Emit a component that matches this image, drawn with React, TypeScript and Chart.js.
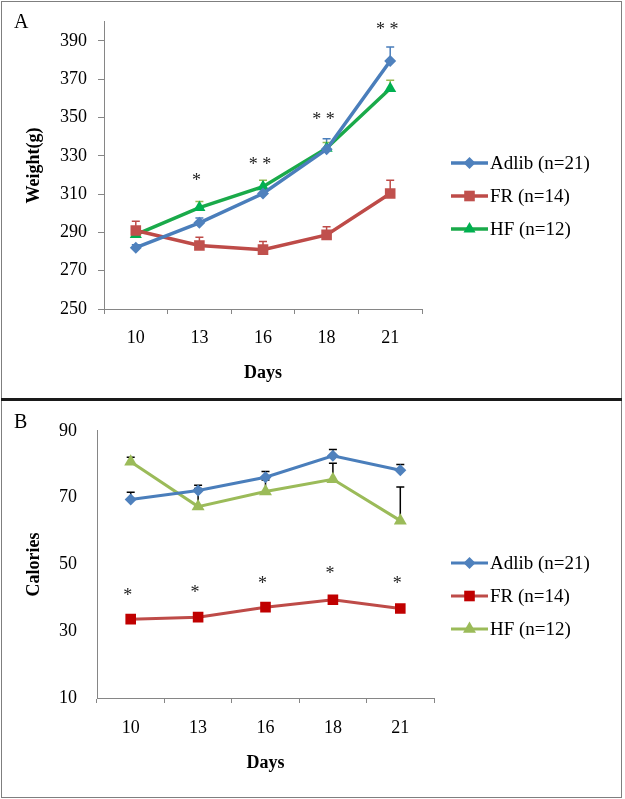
import React, { useEffect, useRef } from 'react';
import { Chart, registerables } from 'chart.js';
Chart.register(...registerables);

// ---------- data ----------
const days = ['10', '13', '16', '18', '21'];
const seriesNames = ['Adlib (n=21)', 'FR (n=14)', 'HF (n=12)'];

const weightAdlib = [282, 295, 310.3, 333.4, 379.5];
const weightAdlibErr = [1.5, 2.5, 2.5, 5.5, 7.4];
const weightFR = [291, 283.2, 281, 288.7, 310.3];
const weightFRErr = [4.8, 4.3, 4.2, 4.3, 6.9];
const weightHF = [288.9, 303, 313.9, 334, 365.2];
const weightHFErr = [2, 3.1, 3.3, 3, 4.3];
const weightTicks = [250, 270, 290, 310, 330, 350, 370, 390];
const weightStars = ['', '*', '**', '**', '**'];
const weightStarAt = [null, 317.2, 325.6, 349, 396];

const calAdlib = [69.4, 72.1, 76.1, 82.5, 78.2];
const calAdlibErr = [2.2, 1.6, 1.7, 1.9, 1.7];
const calFR = [33.6, 34.2, 37.2, 39.4, 36.8];
const calFRErr = [0.8, 0.8, 0.8, 0.8, 0.8];
const calHF = [80.7, 67.3, 71.8, 75.5, 63.1];
const calHFErr = [1.4, 5.4, 3.5, 4.8, 10.1];
const calTicks = [10, 30, 50, 70, 90];
const calStars = ['*', '*', '*', '*', '*'];
const calStarAt = [40.6, 41.6, 44.4, 47.3, 44.4];

// ---------- styling ----------
const FONT = '"Liberation Serif", "Times New Roman", serif';
const AXIS = '#868686';

type Series = {
  label: string;
  data: number[];
  err: number[];
  line: string;
  marker: string;
  errColor: string;
  style: string;
  radius: number;
};

type Panel = {
  letter: string;
  yTitle: string;
  yMin: number;
  yMax: number;
  ticks: number[];
  series: Series[];
  stars: string[];
  starAt: (number | null)[];
  chartTop: number;
  chartLeft: number;
  chartRight: number;
  xAxisHeight: number;
  yTickLen: number;
  yTickPad: number;
  xTickPad: number;
  xTitlePad: number;
  lineWidth: number;
};

const LEGEND_X = 451;
const LEGEND_Y = [163, 196, 229];

function drawMarker(ctx: CanvasRenderingContext2D, style: string, x: number, y: number, r: number, color: string) {
  ctx.save();
  ctx.fillStyle = color;
  ctx.beginPath();
  if (style === 'rectRot') {
    ctx.moveTo(x, y - r);
    ctx.lineTo(x + r, y);
    ctx.lineTo(x, y + r);
    ctx.lineTo(x - r, y);
  } else if (style === 'rect') {
    const s = r * Math.SQRT1_2;
    ctx.rect(x - s, y - s, 2 * s, 2 * s);
  } else {
    ctx.moveTo(x, y - r);
    ctx.lineTo(x + 0.866 * r, y + 0.5 * r);
    ctx.lineTo(x - 0.866 * r, y + 0.5 * r);
  }
  ctx.closePath();
  ctx.fill();
  ctx.restore();
}

function makeDecor(p: Panel) {
  return {
    id: 'decor' + p.letter,
    beforeDatasetsDraw(chart: any) {
      const ctx: CanvasRenderingContext2D = chart.ctx;
      const xs = chart.scales.x;
      const ys = chart.scales.y;
      ctx.save();
      p.series.forEach((s) => {
        ctx.strokeStyle = s.errColor;
        ctx.lineWidth = 1.5;
        s.data.forEach((v, i) => {
          const x = xs.getPixelForValue(i);
          const y0 = ys.getPixelForValue(v);
          const y1 = ys.getPixelForValue(v + s.err[i]);
          ctx.beginPath();
          ctx.moveTo(x, y0);
          ctx.lineTo(x, y1);
          ctx.moveTo(x - 4, y1);
          ctx.lineTo(x + 4, y1);
          ctx.stroke();
        });
      });
      ctx.restore();
    },
    afterDatasetsDraw(chart: any) {
      const ctx: CanvasRenderingContext2D = chart.ctx;
      const xs = chart.scales.x;
      const ys = chart.scales.y;
      ctx.save();
      // significance marks
      ctx.fillStyle = '#222';
      ctx.font = `18px ${FONT}`;
      ctx.textAlign = 'center';
      ctx.textBaseline = 'alphabetic';
      p.stars.forEach((t, i) => {
        const v = p.starAt[i];
        if (!t || v == null) return;
        const x = xs.getPixelForValue(i) - 3;
        const y = ys.getPixelForValue(v);
        ctx.fillText(t.split('').join(' '), x, y + 5.5);
      });
      // legend
      const legX1 = LEGEND_X;
      const legX2 = legX1 + 37;
      p.series.forEach((s, i) => {
        const y = LEGEND_Y[i];
        ctx.strokeStyle = s.line;
        ctx.lineWidth = p.lineWidth;
        ctx.beginPath();
        ctx.moveTo(legX1, y);
        ctx.lineTo(legX2, y);
        ctx.stroke();
        drawMarker(ctx, s.style, (legX1 + legX2) / 2, y, s.radius, s.marker);
        ctx.fillStyle = '#000';
        ctx.font = `19px ${FONT}`;
        ctx.textAlign = 'left';
        ctx.textBaseline = 'middle';
        ctx.fillText(s.label, legX2 + 2, y + 1);
      });
      // panel letter
      ctx.fillStyle = '#000';
      ctx.font = `20px ${FONT}`;
      ctx.textAlign = 'left';
      ctx.textBaseline = 'alphabetic';
      ctx.fillText(p.letter, 14, 28);
      ctx.restore();
    },
  };
}

function buildConfig(p: Panel, canvasW: number): any {
  return {
    type: 'line',
    data: {
      labels: days,
      datasets: p.series.map((s) => ({
        label: s.label,
        data: s.data,
        borderColor: s.line,
        backgroundColor: s.marker,
        pointBackgroundColor: s.marker,
        pointBorderWidth: 0,
        pointBorderColor: s.marker,
        pointStyle: s.style,
        pointRadius: s.radius,
        borderWidth: p.lineWidth,
        tension: 0,
        fill: false,
      })),
    },
    options: {
      responsive: false,
      animation: false,
      devicePixelRatio: 1,
      layout: { padding: { left: 0, top: p.chartTop, right: canvasW - p.chartRight, bottom: 0 } },
      plugins: { legend: { display: false }, tooltip: { enabled: false } },
      scales: {
        x: {
          type: 'category',
          offset: true,
          afterFit: (s: any) => { s.height = p.xAxisHeight; },
          grid: { offset: true, drawOnChartArea: false, drawTicks: true, tickLength: 5, color: AXIS, lineWidth: 1 },
          border: { display: true, color: AXIS, width: 1 },
          ticks: { color: '#000', font: { family: FONT, size: 18 }, padding: p.xTickPad, maxRotation: 0 },
          title: {
            display: true,
            text: 'Days',
            color: '#000',
            font: { family: FONT, size: 18, weight: 'bold' },
            padding: { top: 0, bottom: p.xTitlePad },
          },
        },
        y: {
          min: p.yMin,
          max: p.yMax,
          afterFit: (s: any) => { s.width = p.chartLeft; },
          afterBuildTicks: (s: any) => { s.ticks = p.ticks.map((v) => ({ value: v })); },
          grid: {
            drawOnChartArea: false,
            drawTicks: p.yTickLen > 0,
            tickLength: p.yTickLen,
            color: AXIS,
          },
          border: { display: true, color: AXIS, width: 1 },
          ticks: { color: '#000', font: { family: FONT, size: 18 }, padding: p.yTickPad },
          title: {
            display: true,
            text: p.yTitle,
            color: '#000',
            font: { family: FONT, size: 18, weight: 'bold' },
            padding: { top: 24, bottom: 0 },
          },
        },
      },
    },
    plugins: [makeDecor(p)],
  };
}

const panelA: Panel = {
  letter: 'A',
  yTitle: 'Weight(g)',
  yMin: 250,
  yMax: 400,
  ticks: weightTicks,
  series: [
    { label: seriesNames[0], data: weightAdlib, err: weightAdlibErr, line: '#4a7ebb', marker: '#4f81bd', errColor: '#4a7ebb', style: 'rectRot', radius: 6 },
    { label: seriesNames[1], data: weightFR, err: weightFRErr, line: '#be4b48', marker: '#c0504d', errColor: '#be4b48', style: 'rect', radius: 7.5 },
    { label: seriesNames[2], data: weightHF, err: weightHFErr, line: '#1aaa4a', marker: '#00b050', errColor: '#98b954', style: 'triangle', radius: 7 },
  ],
  stars: weightStars,
  starAt: weightStarAt,
  chartTop: 20,
  chartLeft: 104,
  chartRight: 422,
  xAxisHeight: 90,
  yTickLen: 6,
  yTickPad: 11,
  xTickPad: 13,
  xTitlePad: 15,
  lineWidth: 3.5,
};

const panelB: Panel = {
  letter: 'B',
  yTitle: 'Calories',
  yMin: 10,
  yMax: 90,
  ticks: calTicks,
  series: [
    { label: seriesNames[0], data: calAdlib, err: calAdlibErr, line: '#4a7ebb', marker: '#4f81bd', errColor: '#000', style: 'rectRot', radius: 6 },
    { label: seriesNames[1], data: calFR, err: calFRErr, line: '#be4b48', marker: '#c00000', errColor: '#000', style: 'rect', radius: 7.5 },
    { label: seriesNames[2], data: calHF, err: calHFErr, line: '#9bbb59', marker: '#9bbb59', errColor: '#000', style: 'triangle', radius: 7.5 },
  ],
  stars: calStars,
  starAt: calStarAt,
  chartTop: 19,
  chartLeft: 97,
  chartRight: 434,
  xAxisHeight: 101,
  yTickLen: 0,
  yTickPad: 20,
  xTickPad: 14,
  xTitlePad: 25,
  lineWidth: 3,
};

function ChartPanel({ panel, top }: { panel: Panel; top: number }) {
  const ref = useRef<HTMLCanvasElement | null>(null);
  useEffect(() => {
    if (!ref.current) return;
    const chart = new Chart(ref.current, buildConfig(panel, 625));
    return () => chart.destroy();
  }, [panel]);
  return (
    <canvas
      ref={ref}
      width={625}
      height={399}
      style={{ position: 'absolute', left: 0, top, width: 625, height: 399 }}
    />
  );
}

export default function App() {
  return (
    <div style={{ position: 'absolute', left: 0, top: 0, width: 625, height: 799, background: '#fff' }}>
      <ChartPanel panel={panelA} top={0} />
      <ChartPanel panel={panelB} top={400} />
      <div style={{ position: 'absolute', left: 1, top: 1, width: 619, height: 795, border: '1px solid #7f7f7f', pointerEvents: 'none' }} />
      <div style={{ position: 'absolute', left: 1, top: 398, width: 621, height: 3, background: '#1a1a1a', pointerEvents: 'none' }} />
    </div>
  );
}
